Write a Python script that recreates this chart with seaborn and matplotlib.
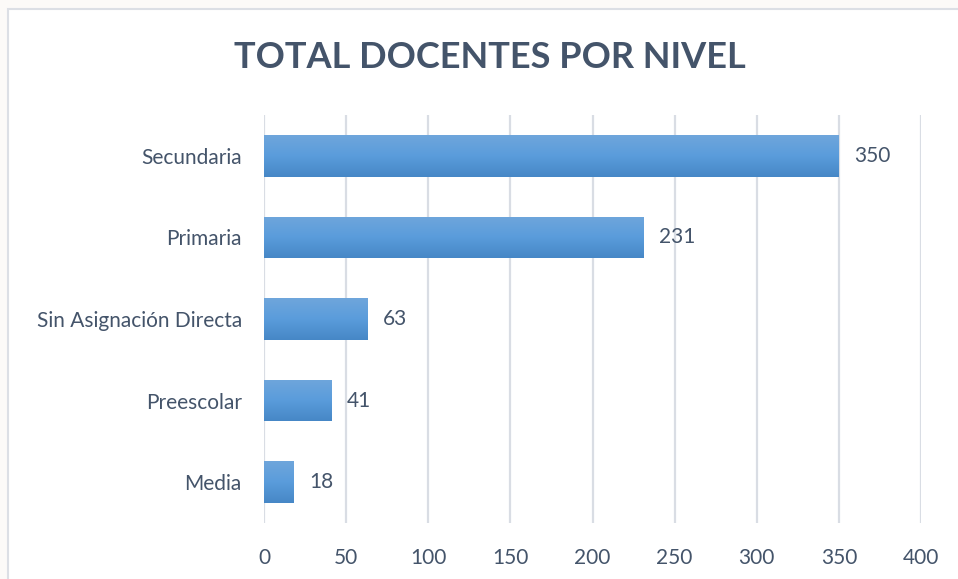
import matplotlib
matplotlib.use("Agg")
import matplotlib.pyplot as plt
import seaborn as sns
import numpy as np
import pandas as pd
from matplotlib.patches import Rectangle
from matplotlib.colors import LinearSegmentedColormap

categories = ["Secundaria", "Primaria", "Sin Asignación Directa", "Preescolar", "Media"]
values = [350, 231, 63, 41, 18]
xticks = [0, 50, 100, 150, 200, 250, 300, 350, 400]
title = "TOTAL DOCENTES POR NIVEL"

df = pd.DataFrame({"nivel": categories, "docentes": values})

sns.set_theme(style="white")
plt.rcParams["font.family"] = ["Lato", "DejaVu Sans"]

text_color = "#44546a"
grid_color = "#d9dde4"

fig = plt.figure(figsize=(9.58, 5.79), dpi=100)
fig.patch.set_facecolor("#fcfaf8")
# chart area frame
fig.patches.append(Rectangle((8 / 958, -0.05), 1.2, 1 - 9 / 579 + 0.05,
                             transform=fig.transFigure, facecolor="white",
                             edgecolor="#dcdfe5", linewidth=1.5, zorder=-5))

ax = fig.add_axes([264 / 958, 1 - 523 / 579, (921 - 264) / 958, (523 - 115) / 579])
ax.set_facecolor("none")

sns.barplot(data=df, x="docentes", y="nivel", orient="h", width=0.51,
            color="#5b9bd5", ax=ax, zorder=3)

ax.set_xlim(0, 400)
ax.set_ylim(4.5, -0.5)
ax.set_xticks(xticks)
ax.grid(axis="x", color=grid_color, linewidth=1.6, zorder=0)
ax.grid(axis="y", visible=False)
for s in ax.spines.values():
    s.set_visible(False)
ax.set_xlabel("")
ax.set_ylabel("")
ax.tick_params(axis="both", length=0, labelsize=15, labelcolor=text_color)
ax.tick_params(axis="y", pad=16)
ax.tick_params(axis="x", pad=18)

# gradient fill for bars
cmap = LinearSegmentedColormap.from_list("g", ["#6fa6dc", "#5a9cdb", "#4687c6"])
grad = np.linspace(0, 1, 256).reshape(-1, 1)
for p in list(ax.patches):
    x0, y0 = p.get_x(), p.get_y()
    w, h = p.get_width(), p.get_height()
    p.set_facecolor("none")
    p.set_edgecolor("none")
    im = ax.imshow(grad, cmap=cmap, aspect="auto", extent=(x0, x0 + w, y0 + h, y0),
                   zorder=3, interpolation="bilinear")
    im.set_clip_path(p)

for i, v in enumerate(values):
    ax.annotate(str(v), xy=(v, i), xytext=(11, 0), textcoords="offset points",
                ha="left", va="center", fontsize=15, color=text_color, zorder=5)

ax.set_xlim(0, 400)
ax.set_ylim(4.5, -0.5)

fig.text(490 / 958, 1 - 57 / 579, title, ha="center", va="center",
         fontsize=26, fontweight="bold", color=text_color)

fig.savefig("out.png", dpi=100, facecolor=fig.get_facecolor())
